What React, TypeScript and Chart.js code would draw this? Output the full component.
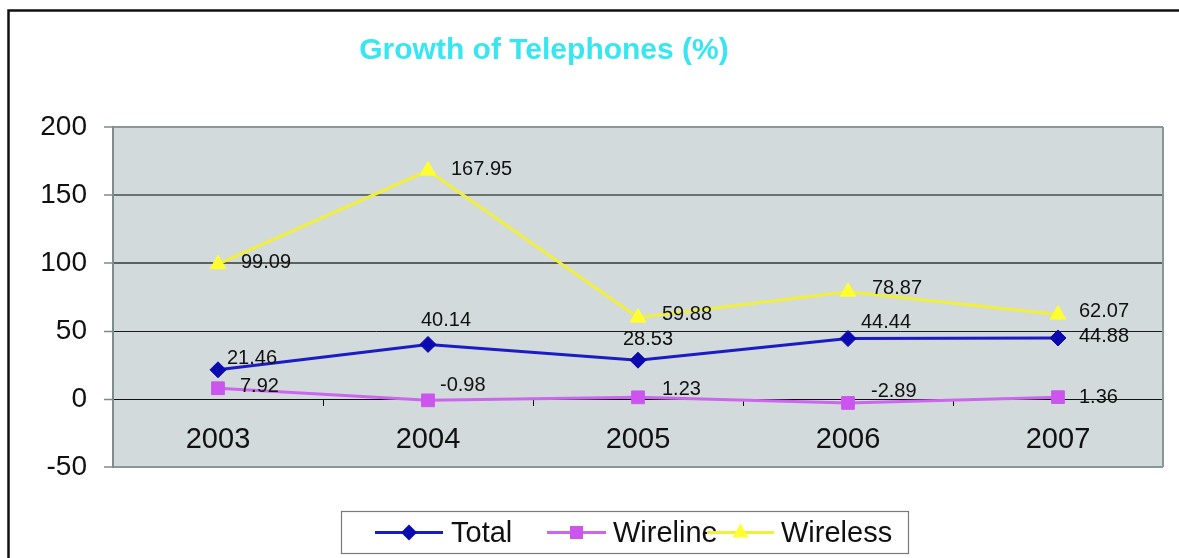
import React, { useEffect, useRef } from 'react';
import { Chart, registerables } from 'chart.js';

Chart.register(...registerables);

const FONT = '"Liberation Sans", Arial, Helvetica, sans-serif';

const titleText = 'Growth of Telephones (%)';
const categories = ['2003', '2004', '2005', '2006', '2007'];
const seriesNames = ['Total', 'Wireline', 'Wireless'];
const totalValues = [21.46, 40.14, 28.53, 44.44, 44.88];
const wirelineValues = [7.92, -0.98, 1.23, -2.89, 1.36];
const wirelessValues = [99.09, 167.95, 59.88, 78.87, 62.07];
const yTickValues = [-50, 0, 50, 100, 150, 200];

// value-label placement relative to each point (px)
const totalLabelOffsets = [[9, -11], [-7, -24], [-15, -21], [13, -16], [21, -1]];
const wirelineLabelOffsets = [[22, -2], [12, -15], [24, -8], [23, -11], [21, 0]];
const wirelessLabelOffsets = [[23, -2], [23, -1], [24, -3], [24, -3], [21, -3]];

const lineColors = ['#1c1cc4', '#cc66ee', '#f0f03c'];
const markerColors = ['#0a0ab0', '#cc55ee', '#ffff30'];
const markerStyles = ['rectRot', 'rect', 'triangle'];
const markerRadius = [8, 9, 9];

const backgroundPlugin = {
  id: 'bgPlugin',
  beforeDraw(chart: any) {
    const { ctx, chartArea, width, height } = chart;
    ctx.save();
    ctx.fillStyle = '#ffffff';
    ctx.fillRect(0, 0, width, height);
    // outer frame
    ctx.strokeStyle = '#111111';
    ctx.lineWidth = 2.5;
    ctx.strokeRect(8.5, 10.5, width + 50, height + 50);
    // plot background
    ctx.fillStyle = '#d3dadb';
    ctx.fillRect(chartArea.left, chartArea.top, chartArea.right - chartArea.left, chartArea.bottom - chartArea.top);
    // title
    ctx.fillStyle = '#38e6f2';
    ctx.font = 'bold 30px ' + FONT;
    ctx.textAlign = 'center';
    ctx.textBaseline = 'middle';
    ctx.fillText(titleText, 544, 51);
    ctx.restore();
  },
  beforeDatasetsDraw(chart: any) {
    const { ctx, chartArea } = chart;
    ctx.save();
    ctx.strokeStyle = '#8a9797';
    ctx.lineWidth = 2;
    ctx.beginPath();
    ctx.moveTo(chartArea.right, chartArea.top);
    ctx.lineTo(chartArea.right, chartArea.bottom);
    ctx.stroke();
    ctx.restore();
  },
};

const labelPlugin = {
  id: 'valueLabels',
  afterDatasetsDraw(chart: any) {
    const { ctx } = chart;
    const offsets = [totalLabelOffsets, wirelineLabelOffsets, wirelessLabelOffsets];
    ctx.save();
    ctx.font = '20px ' + FONT;
    ctx.fillStyle = '#111111';
    ctx.textAlign = 'left';
    ctx.textBaseline = 'middle';
    chart.data.datasets.forEach((ds: any, i: number) => {
      const meta = chart.getDatasetMeta(i);
      meta.data.forEach((pt: any, j: number) => {
        const v = ds.data[j] as number;
        const [dx, dy] = offsets[i][j];
        ctx.fillText(v.toFixed(2), pt.x + dx, pt.y + dy);
      });
    });
    ctx.restore();
  },
};

const legendPlugin = {
  id: 'customLegend',
  afterDraw(chart: any) {
    const { ctx } = chart;
    const box = { x: 341, y: 511, w: 567, h: 42 };
    const lineStarts = [375, 547, 707];
    const lineEnds = [443, 606, 774];
    const textStarts = [451, 613, 781];
    const cy = box.y + box.h / 2 + 0.5;
    ctx.save();
    ctx.fillStyle = '#ffffff';
    ctx.fillRect(box.x, box.y, box.w, box.h);
    ctx.strokeStyle = '#7a7a7a';
    ctx.lineWidth = 1.2;
    ctx.strokeRect(box.x + 0.5, box.y + 0.5, box.w, box.h);
    seriesNames.forEach((name, i) => {
      ctx.strokeStyle = lineColors[i];
      ctx.lineWidth = 3;
      ctx.beginPath();
      ctx.moveTo(lineStarts[i], cy);
      ctx.lineTo(lineEnds[i], cy);
      ctx.stroke();
      const mx = (lineStarts[i] + lineEnds[i]) / 2;
      ctx.fillStyle = markerColors[i];
      ctx.beginPath();
      if (markerStyles[i] === 'rectRot') {
        ctx.moveTo(mx - 8, cy);
        ctx.lineTo(mx, cy - 8);
        ctx.lineTo(mx + 8, cy);
        ctx.lineTo(mx, cy + 8);
      } else if (markerStyles[i] === 'rect') {
        ctx.rect(mx - 6.5, cy - 6.5, 13, 13);
      } else {
        ctx.moveTo(mx, cy - 9);
        ctx.lineTo(mx + 8, cy + 5);
        ctx.lineTo(mx - 8, cy + 5);
      }
      ctx.closePath();
      ctx.fill();
      ctx.fillStyle = '#111111';
      ctx.font = '29px ' + FONT;
      ctx.textAlign = 'left';
      ctx.textBaseline = 'middle';
      ctx.fillText(name, textStarts[i], cy + 1);
    });
    ctx.restore();
  },
};

export default function App() {
  const canvasRef = useRef<HTMLCanvasElement | null>(null);

  useEffect(() => {
    if (!canvasRef.current) return;
    const seriesValues = [totalValues, wirelineValues, wirelessValues];
    const chart = new Chart(canvasRef.current, {
      type: 'line',
      data: {
        labels: categories,
        datasets: seriesNames.map((name, i) => ({
          label: name,
          data: seriesValues[i],
          borderColor: lineColors[i],
          backgroundColor: markerColors[i],
          borderWidth: 3,
          pointStyle: markerStyles[i] as any,
          pointRadius: markerRadius[i],
          pointBackgroundColor: markerColors[i],
          pointBorderColor: markerColors[i],
          pointBorderWidth: 1,
          fill: false,
          tension: 0,
        })),
      },
      options: {
        animation: false,
        responsive: false,
        maintainAspectRatio: false,
        layout: { padding: { top: 127, bottom: 91, right: 16, left: 0 } },
        plugins: {
          legend: { display: false },
          title: { display: false },
          tooltip: { enabled: false },
        },
        scales: {
          x: {
            type: 'category',
            position: { y: 0 } as any,
            offset: true,
            grid: {
              display: true,
              drawOnChartArea: false,
              drawTicks: true,
              tickLength: 6,
              offset: true,
              color: '#111111',
              lineWidth: 1,
            },
            border: { display: true, color: '#111111', width: 1 },
            ticks: {
              color: '#111111',
              font: { size: 29, family: FONT },
              padding: 18,
              maxRotation: 0,
            },
          },
          y: {
            type: 'linear',
            min: -50,
            max: 200,
            afterBuildTicks: (scale: any) => {
              scale.ticks = yTickValues.map((v) => ({ value: v }));
            },
            afterFit: (scale: any) => {
              scale.width = 113;
            },
            grid: {
              color: (c: any) => {
                const v = c.tick ? c.tick.value : 0;
                if (v === 200 || v === -50) return '#8a9797';
                if (v === 150) return '#6a7271';
                if (v === 100) return '#5a6160';
                return '#1a1a1a';
              },
              lineWidth: (c: any) => {
                const v = c.tick ? c.tick.value : 0;
                if (v === 50 || v === 0) return 1;
                return 2;
              },
              tickColor: '#7f8b8b',
              tickWidth: 1.5,
              tickLength: 9,
              drawTicks: true,
            },
            border: { display: true, color: '#7f8c8c', width: 2 },
            ticks: {
              color: '#111111',
              font: { size: 28, family: FONT },
              padding: 17,
              callback: (v: any) => String(v),
            },
          },
        },
      },
      plugins: [backgroundPlugin, labelPlugin, legendPlugin],
    });
    return () => chart.destroy();
  }, []);

  return (
    <div style={{ position: 'fixed', left: 0, top: 0, width: 1179, height: 558, background: '#fff' }}>
      <canvas ref={canvasRef} width={1179} height={558} style={{ display: 'block' }} />
    </div>
  );
}
